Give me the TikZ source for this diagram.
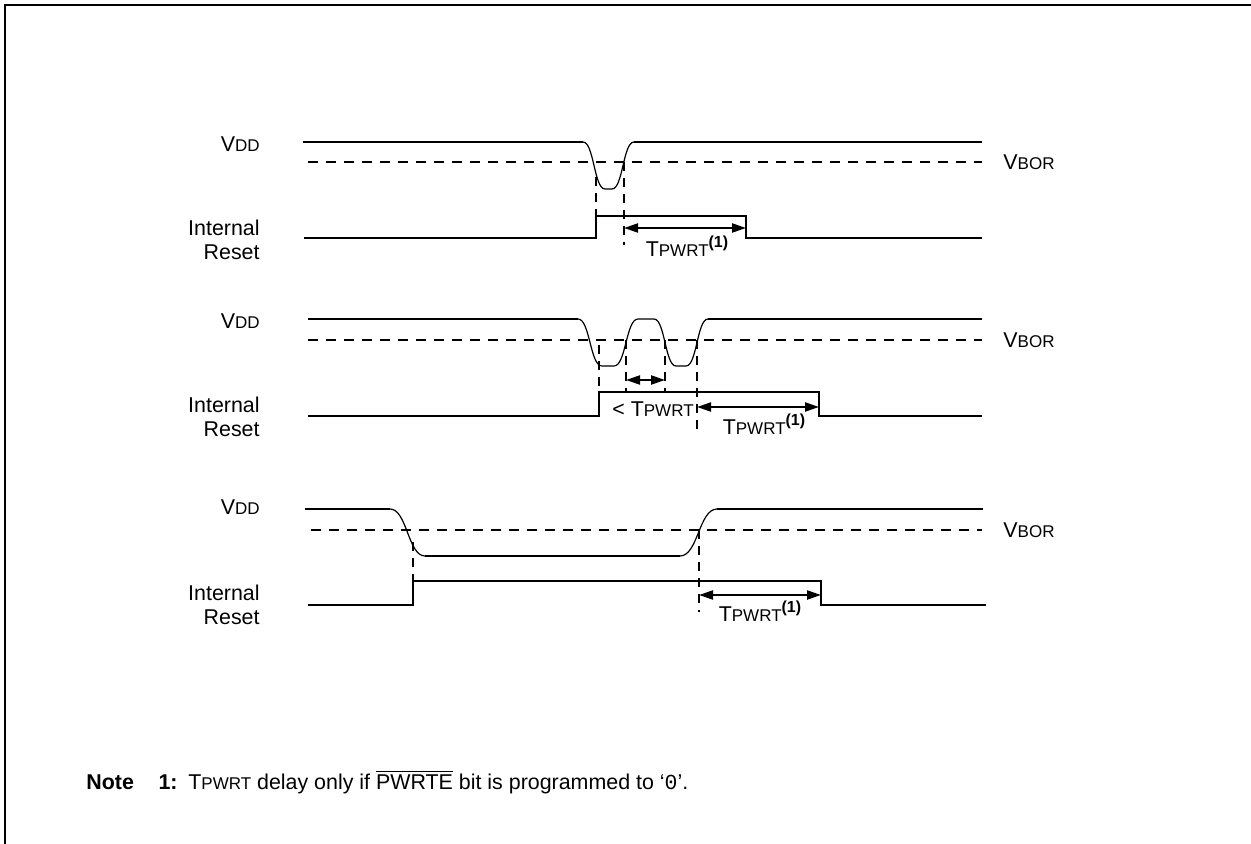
\documentclass[tikz,border=0pt]{standalone}
\usepackage{fontspec}
\setmainfont{Liberation Sans}
\setmonofont{Liberation Mono}
\usetikzlibrary{arrows.meta,positioning}
\newcommand{\lowc}[1]{{\fontsize{8.5}{10}\selectfont #1}}
\newcommand{\vdd}{V\lowc{DD}}
\newcommand{\vbor}{V\lowc{BOR}}
\newcommand{\tpwrt}{T\lowc{PWRT}}
\newcommand{\fnone}{\raisebox{0.42em}{\fontsize{8}{9}\selectfont\bfseries (1)}}

\begin{document}
\begin{tikzpicture}[x=0.5pt, y=-0.5pt, >={Triangle[length=7pt,width=4.5pt]},
    sig/.style={line width=1.3pt},
    edge/.style={line width=0.6pt},
    thr/.style={line width=1.1pt, dash pattern=on 5pt off 4pt},
    guide/.style={line width=1.1pt, dash pattern=on 4.5pt off 3.5pt},
    span/.style={<->, line width=1.1pt},
    lbl/.style={font=\fontsize{10.7}{12}\selectfont, inner sep=0pt}]
  \useasboundingbox (0,0) rectangle (1251,844);
  \draw[line width=1.4pt] (5,844) -- (5,5) -- (1251,5);

  % first case: short dip
  \node[lbl, anchor=east] (vdd1) at (260,144) {\vdd};
  \node[lbl, anchor=west] (vbor1) at (1003,162) {\vbor};
  \node[lbl, anchor=east, align=right] (rst1) at (260,240) {Internal\\Reset};
  \draw[sig] (303,142) -- (583,142);
  \draw[edge] (583,142) .. controls (594,142) and (594,189) .. (605,189) -- (612,189)
    .. controls (623,189) and (623,142) .. (634,142);
  \draw[sig] (634,142) -- (982,142);
  \draw[thr] (308,162) -- (982,162);
  \draw[sig] (304,238) -- (596,238) -- (596,216) -- (746,216) -- (746,238) -- (982,238);
  \draw[guide] (596,177) -- (596,238);
  \draw[guide] (624,162) -- (624,245);
  \coordinate (a1) at (624,228);
  \coordinate (b1) at (746,228);
  \draw[span] (a1) -- (b1);
  \node[lbl] (t1) at (687,246) {\tpwrt\fnone};

  % second case: two dips
  \node[lbl, anchor=east] (vdd2) at (260,321) {\vdd};
  \node[lbl, anchor=west] (vbor2) at (1003,340) {\vbor};
  \node[lbl, anchor=east, align=right] (rst2) at (260,417) {Internal\\Reset};
  \draw[sig] (308,319) -- (578,319);
  \draw[edge] (578,319) .. controls (590,319) and (590,366) .. (602,366) -- (614,366)
    .. controls (626,366) and (626,319) .. (638,319) -- (654,319)
    .. controls (665,319) and (665,366) .. (676,366) -- (686,366)
    .. controls (697,366) and (697,319) .. (708,319);
  \draw[sig] (708,319) -- (982,319);
  \draw[thr] (308,340) -- (982,340);
  \draw[sig] (308,416) -- (599,416) -- (599,392) -- (819,392) -- (819,416) -- (982,416);
  \draw[guide] (599,345) -- (599,392);
  \draw[guide] (626,340) -- (626,392);
  \draw[guide] (665,340) -- (665,392);
  \draw[guide] (697,340) -- (697,430);
  \coordinate (a2) at (626,380);
  \coordinate (b2) at (665,380);
  \coordinate (c2) at (697,407);
  \coordinate (d2) at (819,407);
  \draw[span] (a2) -- (b2);
  \draw[span] (c2) -- (d2);
  \node[lbl] (lt2) at (653,409) {< \tpwrt};
  \node[lbl] (t2) at (764,424) {\tpwrt\fnone};

  % third case: long dip
  \node[lbl, anchor=east] (vdd3) at (260,507) {\vdd};
  \node[lbl, anchor=west] (vbor3) at (1003,530) {\vbor};
  \node[lbl, anchor=east, align=right] (rst3) at (260,605) {Internal\\Reset};
  \draw[sig] (305,509) -- (390,509);
  \draw[edge] (390,509) .. controls (407,509) and (408,556) .. (425,556);
  \draw[sig] (425,556) -- (680,556);
  \draw[edge] (680,556) .. controls (698,556) and (699,509) .. (717,509);
  \draw[sig] (717,509) -- (983,509);
  \draw[thr] (311,530) -- (982,530);
  \draw[sig] (308,605) -- (413,605) -- (413,581) -- (821,581) -- (821,605) -- (986,605);
  \draw[guide] (413,542) -- (413,581);
  \draw[guide] (699,530) -- (699,612);
  \coordinate (a3) at (699,595);
  \coordinate (b3) at (821,595);
  \draw[span] (a3) -- (b3);
  \node[lbl] (t3) at (760,611) {\tpwrt\fnone};

  % note
  \node[lbl, anchor=west] (note) at (86,782) {\textbf{Note}};
  \node[lbl, anchor=east] (noteno) at (178,782) {\textbf{1:}};
  \node[lbl, anchor=west] (notetxt) at (188,782)
    {\tpwrt{} delay only if $\overline{\mbox{PWRTE}}$ bit is programmed to ‘\texttt{0}’.};
\end{tikzpicture}
\end{document}
